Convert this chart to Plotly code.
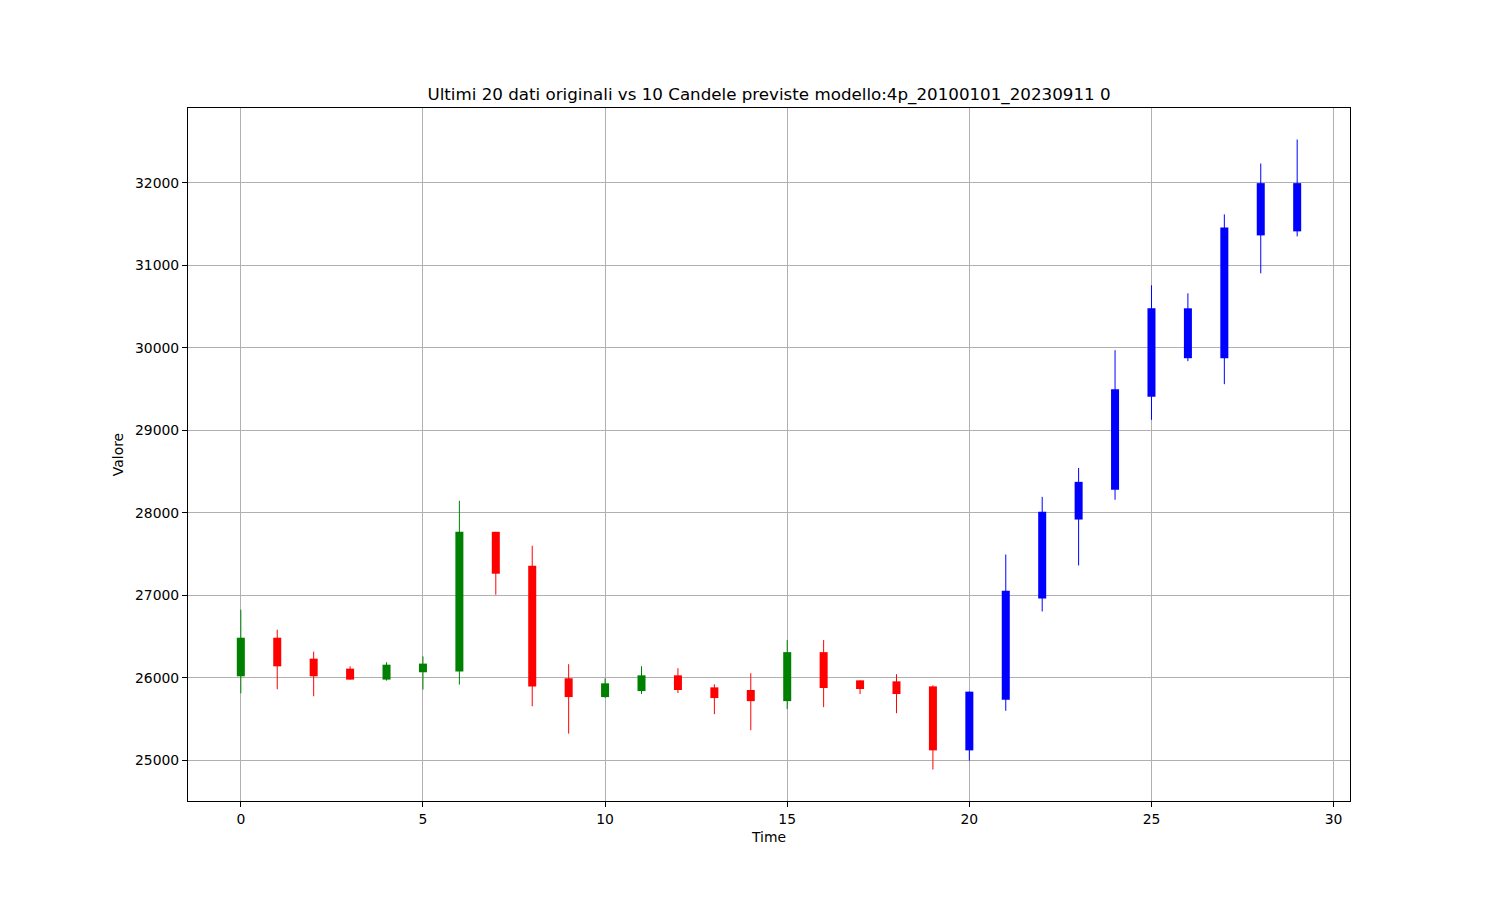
import plotly.graph_objects as go

# ---- data ----
orig_time = list(range(0, 20))
orig_open = [26016, 26484, 26230, 26109, 25976, 26065, 26073, 27768, 27356, 25992,
             25764, 25837, 26028, 25882, 25850, 25715, 26309, 25967, 25955, 25894]
orig_high = [26824, 26581, 26315, 26137, 26186, 26258, 28144, 27768, 27599, 26163,
             25992, 26138, 26114, 25919, 26053, 26455, 26455, 25967, 26041, 25907]
orig_low = [25810, 25859, 25774, 25976, 25964, 25855, 25915, 27005, 25653, 25321,
            25756, 25801, 25813, 25557, 25362, 25618, 25642, 25801, 25569, 24886]
orig_close = [26484, 26137, 26016, 25976, 26157, 26170, 27768, 27260, 25891, 25764,
              25931, 26028, 25850, 25752, 25715, 26309, 25874, 25862, 25801, 25118]

pred_time = list(range(20, 30))
pred_open = [25118, 25731, 26960, 27917, 28279, 29405, 30478, 29873, 31362, 31411]
pred_close = [25830, 27053, 28010, 28374, 29497, 30478, 29873, 31459, 31996, 31996]
pred_high = [25830, 27493, 28192, 28543, 29970, 30757, 30660, 31617, 32234, 32525]
pred_low = [24994, 25598, 26802, 27360, 28157, 29126, 29837, 29558, 30902, 31350]

x_ticks = [0, 5, 10, 15, 20, 25, 30]
y_ticks = [25000, 26000, 27000, 28000, 29000, 30000, 31000, 32000]

title_text = "Ultimi 20 dati originali vs 10 Candele previste modello:4p_20100101_20230911 0"

UP, DOWN, PRED = "#008000", "#ff0000", "#0000ff"
BODY_W = 0.22
FONT = "DejaVu Sans"

# the page body has an 8px default margin, so the figure is drawn 8px in
OFF = 8
W, H = 1500 - OFF, 900 - OFF

fig = go.Figure()


def wick_trace(ts, highs, lows, color):
    xs, ys = [], []
    for t, h, l in zip(ts, highs, lows):
        xs += [t, t, None]
        ys += [l, h, None]
    return go.Scatter(x=xs, y=ys, mode="lines", line=dict(color=color, width=1),
                      hoverinfo="skip", showlegend=False)


groups = {UP: ([], [], [], [], []), DOWN: ([], [], [], [], [])}
for t, o, h, l, c in zip(orig_time, orig_open, orig_high, orig_low, orig_close):
    g = groups[UP if c >= o else DOWN]
    for lst, v in zip(g, (t, o, h, l, c)):
        lst.append(v)

for color, (ts, os_, hs, ls, cs) in groups.items():
    fig.add_trace(wick_trace(ts, hs, ls, color))
fig.add_trace(wick_trace(pred_time, pred_high, pred_low, PRED))

for color, (ts, os_, hs, ls, cs) in groups.items():
    fig.add_trace(go.Bar(
        x=ts, base=[min(o, c) for o, c in zip(os_, cs)],
        y=[abs(c - o) for o, c in zip(os_, cs)],
        width=BODY_W, marker=dict(color=color, line=dict(width=0)),
        hoverinfo="skip", showlegend=False))

fig.add_trace(go.Bar(
    x=pred_time, base=[min(o, c) for o, c in zip(pred_open, pred_close)],
    y=[abs(c - o) for o, c in zip(pred_open, pred_close)],
    width=BODY_W, marker=dict(color=PRED, line=dict(width=0)),
    hoverinfo="skip", showlegend=False))

all_t = orig_time + pred_time
all_v = orig_low + orig_high + pred_low + pred_high
tmin, tmax = min(all_t), max(all_t)
vmin, vmax = min(all_v), max(all_v)
tpad = 0.05 * (tmax - tmin)
vpad = 0.05 * (vmax - vmin)

axis_common = dict(
    showline=True, mirror=True, linecolor="black", linewidth=1,
    showgrid=True, gridcolor="#b0b0b0", gridwidth=1, zeroline=False,
    ticks="outside", ticklen=5, tickcolor="black", tickwidth=1,
    tickfont=dict(family=FONT, size=13.9, color="black"),
    tickformat="d",
)

fig.update_layout(
    width=W, height=H,
    margin=dict(l=188 - OFF, r=150, t=108 - OFF, b=99),
    paper_bgcolor="white", plot_bgcolor="white",
    barmode="overlay", showlegend=False,
    font=dict(family=FONT, color="black"),
    title=dict(text=title_text, x=0.5, xref="paper", xanchor="center",
               y=1 - (94 - OFF) / H, yanchor="middle", yref="container",
               font=dict(family=FONT, size=16.7, color="black")),
    xaxis=dict(range=[tmin - tpad, tmax + tpad], tickvals=x_ticks,
               title=dict(text="Time", standoff=6,
                          font=dict(family=FONT, size=13.9, color="black")),
               **axis_common),
    yaxis=dict(range=[vmin - vpad, vmax + vpad], tickvals=y_ticks,
               title=dict(text="Valore", standoff=8,
                          font=dict(family=FONT, size=13.9, color="black")),
               **axis_common),
)

fig.write_html("out.html")
